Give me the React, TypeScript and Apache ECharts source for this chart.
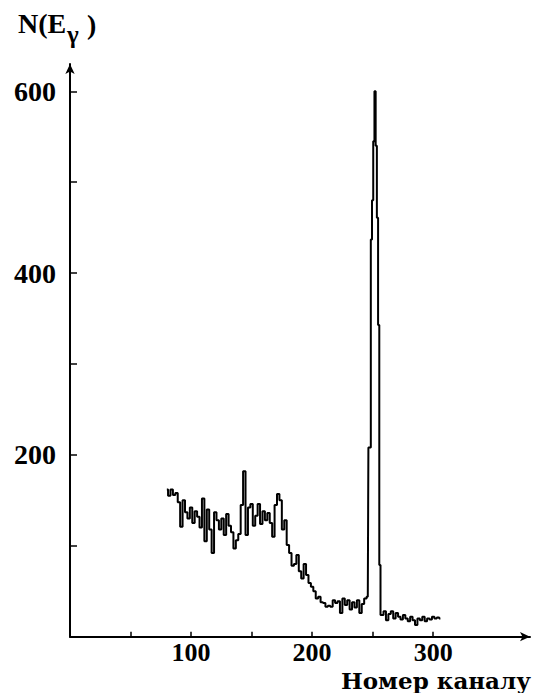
import React, { useEffect, useRef } from "react";
import * as echarts from "echarts";

// Spectrum counts
const leftStart = 80; // channel of first value, step 2
const leftStep = 2;
const leftCounts = [
  162, 155, 162, 156, 158, 148, 121, 150, 137, 130,
  142, 125, 138, 132, 120, 152, 105, 140, 118, 92,
  137, 128, 118, 130, 112, 135, 122, 115, 97, 106,
  113, 145, 182, 112, 142, 146, 122, 133, 146, 124,
  138, 128, 136, 125, 110, 145, 157, 150, 118, 128,
  101, 92, 78, 80, 90, 72, 64, 80, 68, 59,
  55, 50, 42, 44, 38, 37, 33, 34, 33, 40,
  37, 39, 26, 42, 35, 40, 30, 38, 32, 40,
  26, 36, 42, 44,
];
const peakStart = 247; // step 1
const peakStep = 1;
const peakCounts = [208, 208, 437, 480, 545, 600, 540, 461, 343, 79, 24];
const rightStart = 258; // step 2
const rightStep = 2;
const rightCounts = [
  24, 28, 18, 25, 28, 20, 26, 22, 19, 24, 20, 17, 22, 18, 13, 20, 18, 22, 17,
  20, 19, 22, 20, 21, 20,
];

const xTickValues = [50, 100, 150, 200, 250, 300];
const xLabelValues = [100, 200, 300];
const yTickValues = [100, 200, 300, 400, 500, 600];
const yLabelValues = [200, 400, 600];

const yTitle = "N(E";
const yTitleSub = "γ";
const xTitle = "Номер каналу";

function buildSeries(): [number, number][] {
  const out: [number, number][] = [];
  leftCounts.forEach((v, i) => out.push([leftStart + i * leftStep, v]));
  peakCounts.forEach((v, i) => out.push([peakStart + i * peakStep, v]));
  rightCounts.forEach((v, i) => out.push([rightStart + i * rightStep, v]));
  return out;
}

const SERIF = "Liberation Serif";

export default function App() {
  const ref = useRef<HTMLDivElement>(null);
  useEffect(() => {
    if (!ref.current) return;
    const chart = echarts.init(ref.current, null, { renderer: "svg" });
    chart.setOption({
      animation: false,
      backgroundColor: "#ffffff",
      grid: { left: 70, top: 64, width: 460, height: 572.7 },
      xAxis: {
        type: "value",
        min: 0,
        max: 380,
        splitLine: { show: false },
        axisLine: {
          onZero: false,
          lineStyle: { color: "#000", width: 2 },
          symbol: ["none", "arrow"],
          symbolSize: [7, 10],
        },
        axisTick: {
          inside: true,
          length: 5,
          lineStyle: { color: "#000", width: 1.5 },
          customValues: xTickValues,
        },
        axisLabel: {
          customValues: xLabelValues,
          color: "#000",
          fontFamily: SERIF,
          fontWeight: "bold",
          fontSize: 26,
          lineHeight: 26,
          margin: 3,
        },
      },
      yAxis: {
        type: "value",
        min: 0,
        max: 630,
        splitLine: { show: false },
        axisLine: {
          lineStyle: { color: "#000", width: 2 },
          symbol: ["none", "arrow"],
          symbolSize: [7, 10],
        },
        axisTick: {
          inside: true,
          length: 7,
          lineStyle: { color: "#000", width: 1.5 },
          customValues: yTickValues,
        },
        axisLabel: {
          customValues: yLabelValues,
          color: "#000",
          fontFamily: SERIF,
          fontWeight: "bold",
          fontSize: 28,
          margin: 14,
        },
      },
      graphic: [
        {
          type: "text",
          left: 18,
          top: 9,
          style: { text: yTitle, fontFamily: SERIF, fontWeight: "bold", fontSize: 28, fill: "#000" },
        },
        {
          type: "text",
          left: 67,
          top: 22,
          style: { text: yTitleSub, fontFamily: SERIF, fontWeight: "bold", fontSize: 25, fill: "#000" },
        },
        {
          type: "text",
          left: 87,
          top: 10,
          style: { text: ")", fontFamily: SERIF, fontWeight: "bold", fontSize: 28, fill: "#000" },
        },
        {
          type: "text",
          left: 341,
          top: 669,
          style: { text: xTitle, font: "bold 23px DejaVu Serif", fill: "#000" },
        },
      ],
      series: [
        {
          type: "line",
          step: "middle",
          data: buildSeries(),
          symbol: "none",
          lineStyle: { color: "#000", width: 2 },
        },
      ],
    });
    return () => chart.dispose();
  }, []);
  return <div ref={ref} style={{ width: 546, height: 693, position: "absolute", left: 0, top: 0 }} />;
}
